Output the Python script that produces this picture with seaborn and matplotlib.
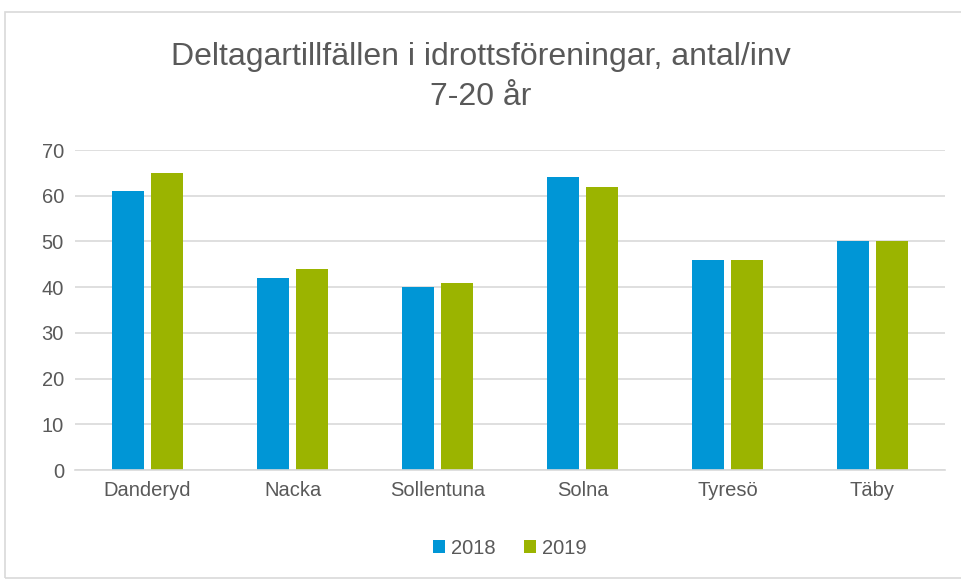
import numpy as np
import pandas as pd
import matplotlib
matplotlib.use("Agg")
import matplotlib.pyplot as plt
import seaborn as sns
from matplotlib.patches import Rectangle

# chart data
kommuner = ["Danderyd", "Nacka", "Sollentuna", "Solna", "Tyresö", "Täby"]
values_2018 = [61, 42, 40, 64, 46, 50]
values_2019 = [65, 44, 41, 62, 46, 50]
years = ["2018", "2019"]
y_ticks = [0, 10, 20, 30, 40, 50, 60, 70]

df = pd.DataFrame({
    "kommun": kommuner * 2,
    "year": [years[0]] * len(kommuner) + [years[1]] * len(kommuner),
    "value": values_2018 + values_2019,
})

sns.set_theme(style="white")
plt.rcParams["font.family"] = ["Liberation Sans", "DejaVu Sans"]

text_color = "#595959"
palette = {"2018": "#0096D6", "2019": "#9BB400"}

fig = plt.figure(figsize=(9.62, 5.81), dpi=100)
ax = fig.add_axes([75 / 962, 1 - 470 / 581, 870 / 962, 320 / 581])

sns.barplot(data=df, x="kommun", y="value", hue="year", palette=palette,
            width=0.55, gap=0.2, saturation=1, ax=ax, edgecolor="none")

ax.set_ylim(0, 70)
ax.set_yticks(y_ticks)
ax.yaxis.grid(True, color="#D9D9D9", linewidth=1.2)
ax.set_axisbelow(True)
for s in ["top", "right", "left"]:
    ax.spines[s].set_visible(False)
ax.spines["bottom"].set_color("#D9D9D9")
ax.spines["bottom"].set_linewidth(1.2)
ax.tick_params(axis="both", length=0, labelsize=14.5, colors=text_color, pad=8)
ax.set_xlabel("")
ax.set_ylabel("")

fig.text(0.5, 1 - 77 / 581, "Deltagartillfällen i idrottsföreningar, antal/inv\n7-20 år",
         ha="center", va="center", fontsize=23, color=text_color, linespacing=1.4)

leg = ax.legend(loc="center", bbox_to_anchor=(0.5, -0.245), ncol=2, frameon=False,
                fontsize=14.5, handlelength=0.6, handleheight=0.6, handletextpad=0.3,
                columnspacing=1.4)
for t in leg.get_texts():
    t.set_color(text_color)

# outer chart frame
fig.patches.append(Rectangle((5 / 962, 1 - 578 / 581), 1.0, (578 - 12) / 581,
                             transform=fig.transFigure, fill=False,
                             edgecolor="#D9D9D9", linewidth=1.2))

fig.savefig("out.png", dpi=100)
